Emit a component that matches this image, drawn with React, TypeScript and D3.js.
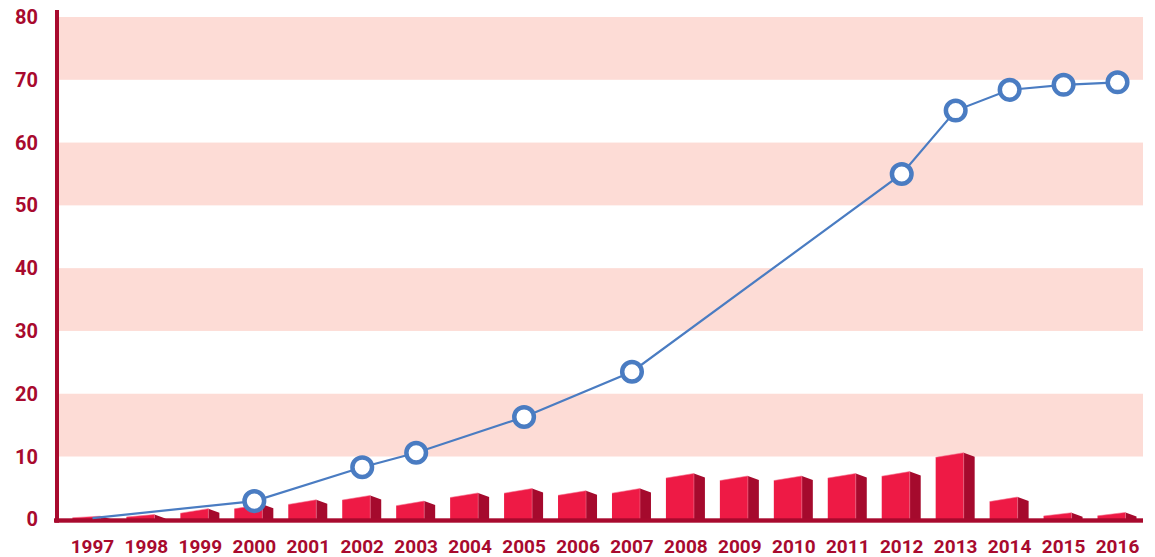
import React from "react";
import * as d3 from "d3";

// Annual bars (one per year) and a cumulative line with markers
const years: string[] = [
  "1997", "1998", "1999", "2000", "2001", "2002", "2003", "2004", "2005", "2006",
  "2007", "2008", "2009", "2010", "2011", "2012", "2013", "2014", "2015", "2016",
];
const barValues: number[] = [
  0.5, 0.75, 1.7, 2.4, 3.1, 3.8, 2.9, 4.2, 4.9, 4.55,
  4.9, 7.3, 6.9, 6.9, 7.3, 7.6, 10.6, 3.55, 1.05, 1.1,
];
const lineYears: string[] = ["1997", "2000", "2002", "2003", "2005", "2007", "2012", "2013", "2014", "2015", "2016"];
const lineValues: number[] = [0.2, 2.9, 8.3, 10.6, 16.3, 23.5, 55, 65.1, 68.4, 69.2, 69.6];
const lineMarkers: boolean[] = [false, true, true, true, true, true, true, true, true, true, true];
const yTicks: number[] = [0, 10, 20, 30, 40, 50, 60, 70, 80];

const W = 1155;
const H = 557;
const AXIS = "#a80a2e";
const BAND = "#fddcd6";
const FRONT = "#ee1a45";
const SIDE = "#a50a2d";
const BLUE = "#4a7cc2";
const FONT = "Roboto, 'Liberation Sans', Arial, sans-serif";

export default function App() {
  const plotLeft = 59;
  const plotRight = 1143;
  const y = d3.scaleLinear().domain([0, 80]).range([519.3, 17]);
  const x = d3.scaleBand<string>().domain(years).range([65.5, 1144.5]).padding(0);
  const cx = (yr: string) => (x(yr) as number) + x.bandwidth() / 2;

  const frontW = 28;
  const sideW = 11;
  const base = y(0);

  const line = d3
    .line<number>()
    .x((_, i) => cx(lineYears[i]))
    .y((v) => y(v))
    .curve(d3.curveLinear);

  const bandPairs = [
    [70, 80],
    [50, 60],
    [30, 40],
    [10, 20],
  ];

  return (
    <svg
      width={W}
      height={H}
      style={{ position: "absolute", left: 0, top: 0, background: "#fff" }}
    >
      {/* alternating background bands */}
      {bandPairs.map(([lo, hi]) => (
        <rect
          key={lo}
          x={plotLeft}
          y={y(hi)}
          width={plotRight - plotLeft}
          height={y(lo) - y(hi)}
          fill={BAND}
        />
      ))}

      {/* 3D-style columns */}
      {years.map((yr, i) => {
        const c = cx(yr);
        const fl = c - 20;
        const fr = fl + frontW;
        const sr = fr + sideW;
        const h = base - y(barValues[i]);
        const hl = Math.max(h - 4.6, h * 0.5);
        const topR = base - h;
        const topL = base - hl;
        const sideTop = Math.min(base, topR + 4);
        return (
          <g key={yr}>
            <path
              d={`M${fl},${base}L${fl},${topL}L${fr},${topR}L${fr},${base}Z`}
              fill={FRONT}
            />
            <path
              d={`M${fr},${base}L${fr},${topR}L${sr},${sideTop}L${sr},${base}Z`}
              fill={SIDE}
            />
            <path
              d={`M${fl},${topL}L${fr},${topR}L${fr},${base}`}
              fill="none"
              stroke="#f4708c"
              strokeWidth={0.8}
              opacity={0.7}
            />
          </g>
        );
      })}

      {/* axes */}
      <rect x={55} y={10} width={4} height={512.7} fill={AXIS} />
      <rect x={54} y={518.3} width={plotRight - 54} height={4.4} fill={AXIS} />

      {/* y tick labels */}
      {yTicks.map((t) => (
        <text
          key={t}
          x={38}
          y={y(t) + 7}
          textAnchor="end"
          fontFamily={FONT}
          fontWeight={700}
          fontSize={20}
          fill={AXIS}
        >
          {t}
        </text>
      ))}

      {/* x tick labels */}
      {years.map((yr) => (
        <text
          key={yr}
          x={cx(yr)}
          y={553}
          textAnchor="middle"
          fontFamily={FONT}
          fontWeight={700}
          fontSize={19}
          fill={AXIS}
        >
          {yr}
        </text>
      ))}

      {/* cumulative line */}
      <path d={line(lineValues) || ""} fill="none" stroke={BLUE} strokeWidth={2.2} />
      {lineValues.map((v, i) =>
        lineMarkers[i] ? (
          <circle
            key={lineYears[i]}
            cx={cx(lineYears[i])}
            cy={y(v)}
            r={9.8}
            fill="#fff"
            stroke={BLUE}
            strokeWidth={4.5}
          />
        ) : null
      )}
    </svg>
  );
}
